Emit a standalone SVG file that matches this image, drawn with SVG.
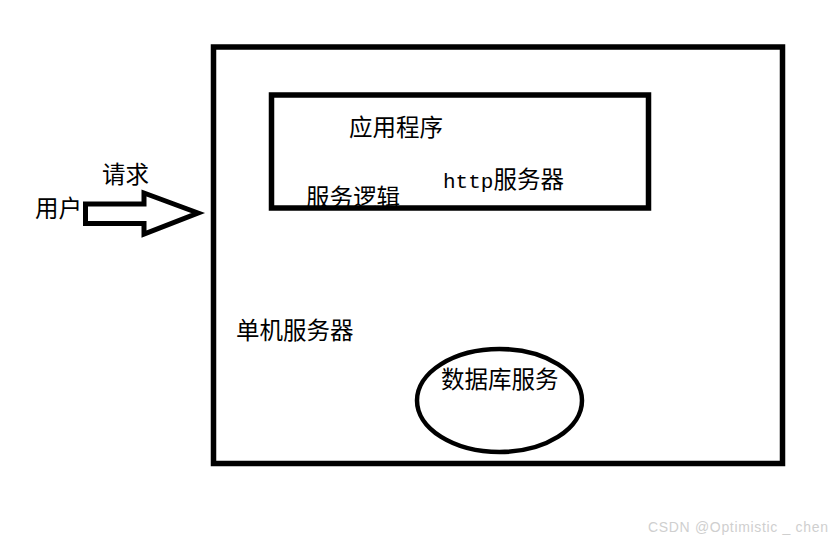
<svg xmlns="http://www.w3.org/2000/svg" width="835" height="542" viewBox="0 0 835 542">
<style>
.box{fill:none;stroke:#000;stroke-width:5.5}
.t{font-family:"Noto Sans CJK SC","Noto Sans",sans-serif;font-size:23.5px;fill:#000}
.m{font-family:"Liberation Mono",monospace;font-size:21px}
.wm{font-family:"Liberation Sans",sans-serif;font-size:14px;fill:#cfcfcf}
</style>
<rect width="835" height="542" fill="#fff"/>
<g id="server">
<rect class="box" x="213.5" y="47" width="569" height="416.5"/>
<text class="t" x="236" y="339">单机服务器</text>
</g>
<g id="logic">
<text class="t" x="306" y="205.5">服务逻辑</text>
</g>
<g id="app">
<rect class="box" x="271.5" y="95" width="377" height="113"/>
<text class="t" x="349" y="135.5">应用程序</text>
</g>
<g id="http">
<text class="t" x="443" y="188"><tspan class="m">http</tspan>服务器</text>
</g>
<g id="db">
<ellipse cx="499.5" cy="400.5" rx="82.5" ry="51.5" fill="none" stroke="#000" stroke-width="4.5"/>
<text class="t" x="441" y="388">数据库服务</text>
</g>
<g id="user">
<text class="t" x="35" y="217">用户</text>
</g>
<g id="connectors">
<path d="M85.5,204 L144,204 L144,193 L198,213 L144,234 L144,223.5 L85.5,223.5 Z" fill="#fff" stroke="#000" stroke-width="5" stroke-linejoin="miter"/>
<text class="t" x="102" y="183">请求</text>
</g>
<text class="wm" x="648" y="532" textLength="180">CSDN @Optimistic _ chen</text>
</svg>
